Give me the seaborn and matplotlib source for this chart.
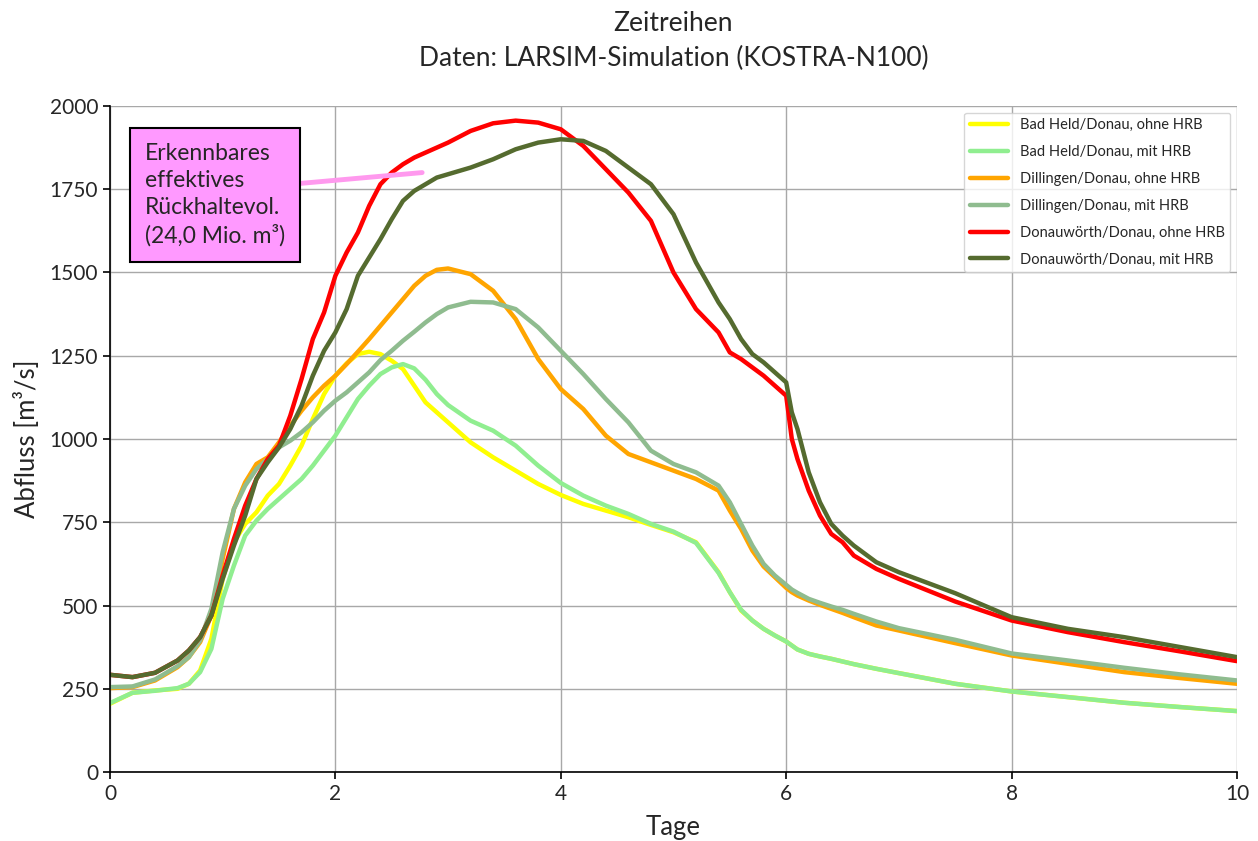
import numpy as np
import pandas as pd
import matplotlib
matplotlib.use("Agg")
import matplotlib.pyplot as plt
import seaborn as sns

# Zeitachse in Tagen
tage = [0, 0.2, 0.4, 0.6, 0.7, 0.8, 0.9, 1.0, 1.1, 1.2, 1.3, 1.4, 1.5, 1.6, 1.7,
        1.8, 1.9, 2.0, 2.1, 2.2, 2.3, 2.4, 2.5, 2.6, 2.7, 2.8, 2.9, 3.0, 3.2, 3.4,
        3.6, 3.8, 4.0, 4.2, 4.4, 4.6, 4.8, 5.0, 5.2, 5.4, 5.5, 5.6, 5.7, 5.8, 5.9,
        6.0, 6.05, 6.1, 6.2, 6.3, 6.4, 6.5, 6.6, 6.8, 7.0, 7.5, 8.0, 8.5, 9.0,
        9.5, 10]

bad_held_ohne = [205, 238, 245, 250, 265, 305, 400, 580, 690, 745, 780, 830, 865,
                 920, 980, 1060, 1135, 1190, 1227, 1255, 1262, 1255, 1235, 1210,
                 1160, 1110, 1080, 1050, 990, 945, 905, 865, 832, 805, 785, 765,
                 742, 720, 690, 600, 540, 485, 455, 430, 410, 392, 380, 368, 355,
                 347, 340, 332, 324, 310, 297, 265, 242, 225, 208, 195, 183]
bad_held_mit = [207, 238, 244, 252, 265, 300, 370, 520, 620, 710, 755, 790, 820,
                850, 880, 920, 965, 1010, 1065, 1120, 1160, 1195, 1215, 1225,
                1212, 1178, 1135, 1102, 1055, 1025, 980, 920, 868, 830, 800, 775,
                745, 722, 688, 598, 540, 487, 455, 430, 410, 392, 380, 368, 355,
                347, 340, 332, 324, 310, 297, 265, 242, 225, 208, 195, 183]
dillingen_ohne = [252, 255, 275, 315, 345, 390, 470, 640, 790, 870, 925, 945, 990,
                  1040, 1085, 1125, 1160, 1190, 1225, 1262, 1300, 1340, 1380, 1420,
                  1460, 1490, 1508, 1512, 1495, 1445, 1360, 1240, 1150, 1090, 1010,
                  955, 930, 905, 880, 845, 785, 730, 665, 617, 585, 553, 540, 530,
                  515, 502, 490, 478, 465, 440, 425, 387, 350, 325, 300, 282, 265]
dillingen_mit = [255, 257, 278, 318, 345, 395, 490, 660, 790, 860, 910, 940, 975,
                 995, 1020, 1050, 1085, 1115, 1140, 1170, 1200, 1237, 1265, 1295,
                 1322, 1350, 1375, 1395, 1412, 1410, 1390, 1335, 1265, 1195, 1120,
                 1050, 965, 925, 900, 860, 810, 745, 680, 625, 590, 562, 548, 538,
                 520, 508, 497, 487, 475, 452, 432, 397, 356, 335, 313, 293, 275]
donauwoerth_ohne = [292, 285, 298, 335, 365, 405, 470, 590, 700, 800, 880, 940, 980,
                    1070, 1180, 1300, 1380, 1490, 1560, 1620, 1700, 1765, 1800,
                    1825, 1845, 1860, 1875, 1890, 1925, 1948, 1956, 1950, 1930,
                    1880, 1810, 1740, 1655, 1500, 1390, 1320, 1260, 1240, 1215,
                    1190, 1160, 1130, 1000, 940, 845, 770, 715, 690, 650, 610, 580,
                    512, 455, 420, 390, 362, 333]
donauwoerth_mit = [292, 285, 298, 335, 365, 405, 470, 580, 680, 770, 880, 930, 975,
                   1030, 1100, 1190, 1265, 1320, 1390, 1490, 1545, 1600, 1660, 1715,
                   1745, 1765, 1785, 1795, 1815, 1840, 1870, 1890, 1900, 1895, 1865,
                   1815, 1765, 1675, 1530, 1410, 1360, 1300, 1255, 1230, 1200, 1170,
                   1080, 1030, 900, 810, 745, 710, 680, 630, 600, 537, 465, 430, 405,
                   375, 345]

namen = ["Bad Held/Donau, ohne HRB", "Bad Held/Donau, mit HRB",
         "Dillingen/Donau, ohne HRB", "Dillingen/Donau, mit HRB",
         "Donauwörth/Donau, ohne HRB", "Donauwörth/Donau, mit HRB"]
reihen = [bad_held_ohne, bad_held_mit, dillingen_ohne, dillingen_mit,
          donauwoerth_ohne, donauwoerth_mit]
farben = ["#ffff00", "#90ee90", "#ffa500", "#8fbc8f", "#ff0000", "#556b2f"]

df = pd.concat(
    [pd.DataFrame({"Tage": tage, "Abfluss": werte, "Pegel": name})
     for name, werte in zip(namen, reihen)],
    ignore_index=True,
)

sns.set_style("white")
plt.rcParams["font.family"] = ["Lato", "DejaVu Sans"]

fig = plt.figure(figsize=(12.58, 8.41), dpi=100)
ax = fig.add_axes([0.0874, 0.082, 0.8959, 0.792])

sns.lineplot(data=df, x="Tage", y="Abfluss", hue="Pegel", hue_order=namen,
             palette=dict(zip(namen, farben)), estimator=None, sort=False,
             linewidth=3.2, ax=ax)

ax.set_xlim(0, 10)
ax.set_ylim(0, 2000)
ax.set_xticks(np.arange(0, 11, 2))
ax.set_yticks(np.arange(0, 2001, 250))
ax.grid(True, color="#a8a8a8", linewidth=1.0)
ax.set_axisbelow(True)
for side in ["top", "right"]:
    ax.spines[side].set_visible(False)
for side in ["left", "bottom"]:
    ax.spines[side].set_color("black")
    ax.spines[side].set_linewidth(1.2)
ax.tick_params(axis="both", which="major", direction="out", length=5, width=1.2,
               color="black", labelsize=15, left=True, bottom=True)

ax.set_xlabel("Tage", fontsize=18.5, labelpad=8)
ax.set_ylabel("Abfluss [m³/s]", fontsize=18.5, labelpad=7)
ax.set_title("Zeitreihen\nDaten: LARSIM-Simulation (KOSTRA-N100)", fontsize=19,
             pad=29, linespacing=1.5)

leg = ax.legend(loc="upper right", fontsize=10.5, frameon=True, fancybox=True,
                borderaxespad=0.45, handlelength=2.6, labelspacing=0.88)
leg.get_frame().set_edgecolor("#cccccc")
for line in leg.get_lines():
    line.set_linewidth(3.2)

ax.annotate("Erkennbares\neffektives\nRückhaltevol.\n(24,0 Mio. m³)",
            xy=(2.77, 1800), xycoords="data",
            xytext=(0.031, 0.944), textcoords="axes fraction",
            ha="left", va="top", fontsize=16.5, linespacing=1.35,
            bbox=dict(boxstyle="square,pad=0.65", facecolor="#ff99ff",
                      edgecolor="black", linewidth=1.5),
            arrowprops=dict(arrowstyle="-", color="#ff99ee", linewidth=3.5,
                            shrinkA=0, shrinkB=0, relpos=(1.0, 0.6)))

fig.savefig("out.png", dpi=100)
